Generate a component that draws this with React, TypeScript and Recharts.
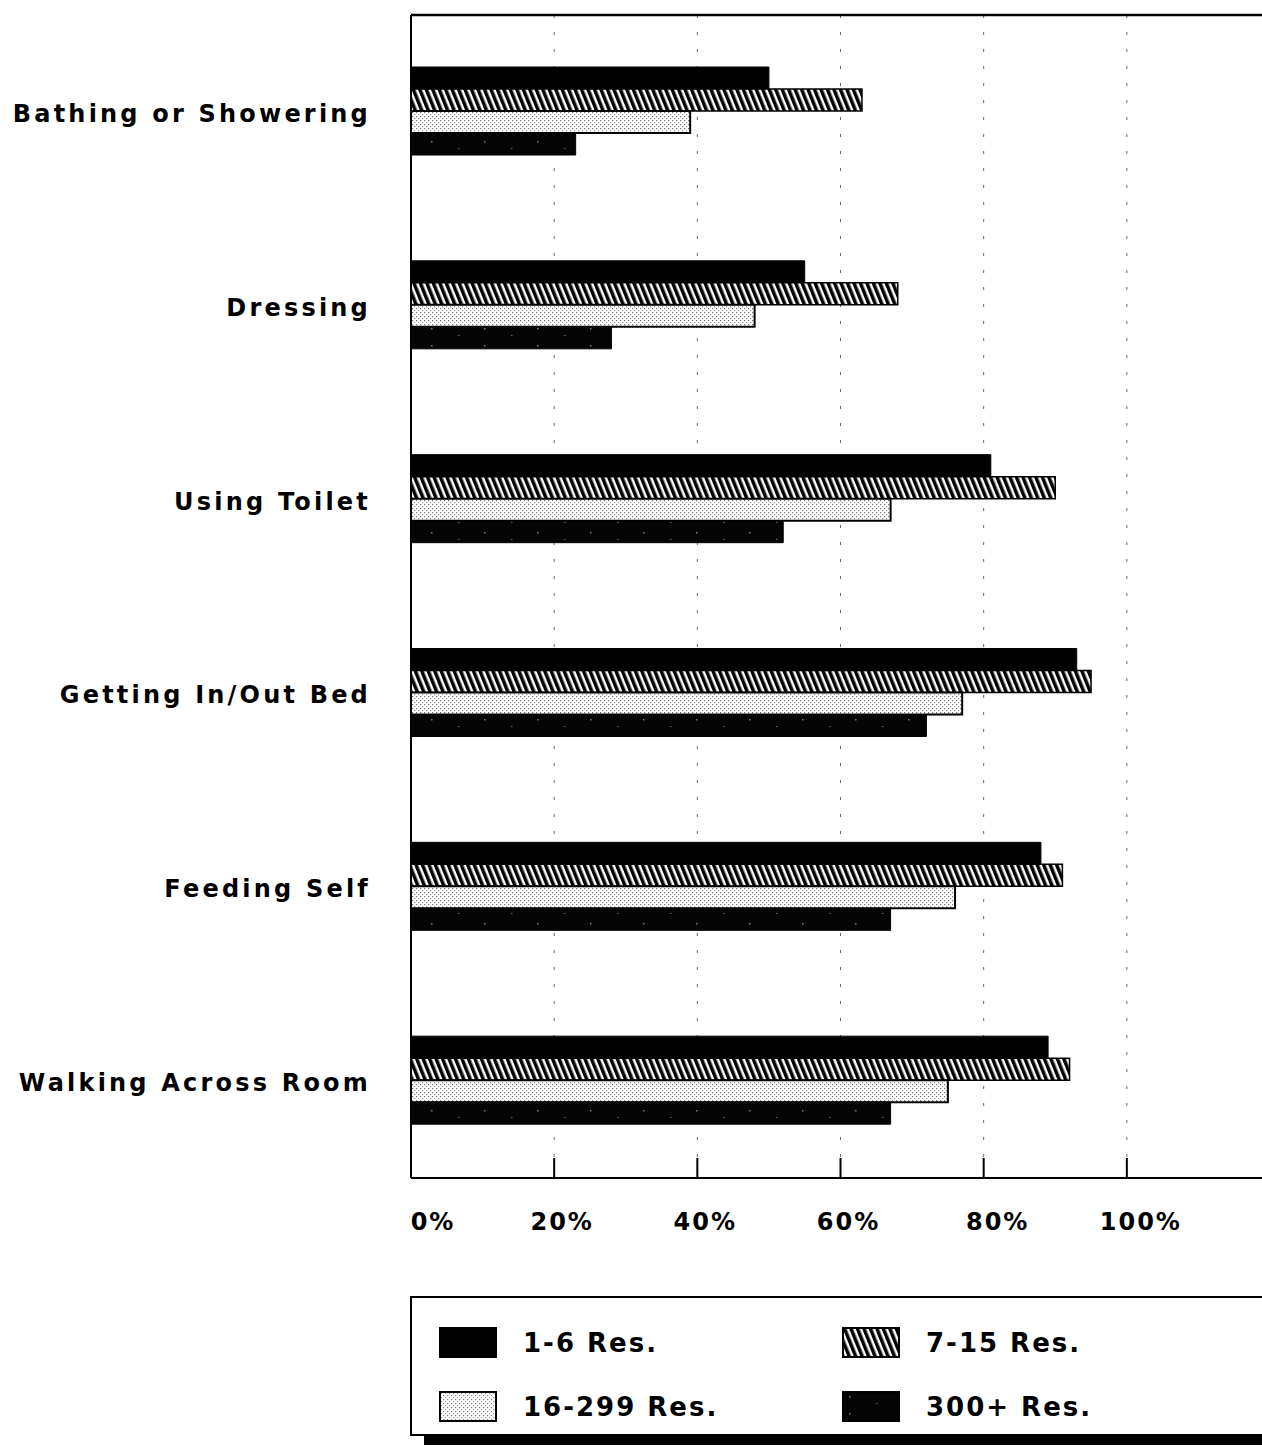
import React from 'react';
import { BarChart, Bar, XAxis, YAxis, CartesianGrid, Legend } from 'recharts';

const categories = [
  'Bathing or Showering',
  'Dressing',
  'Using Toilet',
  'Getting In/Out Bed',
  'Feeding Self',
  'Walking Across Room',
];
const res1to6 = [50, 55, 81, 93, 88, 89];
const res7to15 = [63, 68, 90, 95, 91, 92];
const res16to299 = [39, 48, 67, 77, 76, 75];
const res300plus = [23, 28, 52, 72, 67, 67];
const xTicks = [0, 20, 40, 60, 80, 100];
const seriesNames = ['1-6 Res.', '7-15 Res.', '16-299 Res.', '300+ Res.'];

const data = categories.map((name, i) => ({
  name,
  a: res1to6[i],
  b: res7to15[i],
  c: res16to299[i],
  d: res300plus[i],
}));

const FONT = '"DejaVu Sans", Arial, Helvetica, sans-serif';

const YTick = (props: any) => {
  const { x, y, payload } = props;
  return (
    <text
      x={x}
      y={y}
      dy={10}
      textAnchor="end"
      fontFamily={FONT}
      fontWeight="bold"
      fontSize={24}
      letterSpacing={3.2}
      fill="#000"
    >
      {payload.value}
    </text>
  );
};

const XTick = (props: any) => {
  const { x, y, payload, index } = props;
  const dx = index === 0 ? 22 : index >= 4 ? 14 : 8;
  return (
    <g>
      <line x1={x} y1={y} x2={x} y2={y - 20} stroke="#000" strokeWidth={2} />
      <text
        x={x + dx}
        y={y + 52}
        textAnchor="middle"
        fontFamily={FONT}
        fontWeight="bold"
        fontSize={24}
        letterSpacing={2}
        fill="#000"
      >
        {payload.value}%
      </text>
    </g>
  );
};

const LegendContent = (props: any) => {
  const { payload } = props;
  const items = [...(payload || [])].sort(
    (p: any, q: any) => seriesNames.indexOf(p.value) - seriesNames.indexOf(q.value)
  );
  return (
    <div
      style={{
        width: 900,
        height: 140,
        border: '2px solid #000',
        boxShadow: '14px 9px 0 0 #000',
        background: '#fff',
        boxSizing: 'border-box',
        position: 'relative',
        fontFamily: FONT,
      }}
    >
      {items.map((entry: any, i: number) => {
        const col = i % 2;
        const row = Math.floor(i / 2);
        return (
          <div
            key={i}
            style={{
              position: 'absolute',
              left: 27 + col * 403,
              top: 29 + row * 64,
              display: 'flex',
              alignItems: 'center',
            }}
          >
            <svg width={58} height={31} style={{ display: 'block' }}>
              <rect x={1} y={1} width={56} height={29} fill={entry.color} stroke="#000" strokeWidth={2} />
            </svg>
            <span
              style={{
                marginLeft: 26,
                fontSize: 26,
                fontWeight: 'bold',
                letterSpacing: 2,
                color: '#000',
              }}
            >
              {entry.value}
            </span>
          </div>
        );
      })}
    </div>
  );
};

export default function App() {
  return (
    <div
      style={{
        position: 'absolute',
        left: 0,
        top: 0,
        width: 1262,
        height: 1450,
        overflow: 'hidden',
        background: '#fff',
      }}
    >
      <BarChart
        width={1280}
        height={1450}
        data={data}
        layout="vertical"
        margin={{ top: 14, right: 10, bottom: 0, left: 0 }}
        barCategoryGap={52}
        barGap={0}
      >
        <defs>
          <pattern id="hatch" patternUnits="userSpaceOnUse" width="6" height="6" patternTransform="rotate(-22)">
            <rect width="6" height="6" fill="#fff" />
            <rect width="3.5" height="6" fill="#000" />
          </pattern>
          <pattern id="dots" patternUnits="userSpaceOnUse" width="4" height="4">
            <rect width="4" height="4" fill="#fff" />
            <rect x="0" y="0" width="1.2" height="1.2" fill="#777" />
            <rect x="2" y="2" width="1.2" height="1.2" fill="#999" />
          </pattern>
          <pattern id="speck" patternUnits="userSpaceOnUse" width="53" height="17">
            <rect width="53" height="17" fill="#050505" />
            <rect x="7" y="5" width="1.5" height="1.5" fill="#777" />
            <rect x="34" y="12" width="1.5" height="1" fill="#666" />
          </pattern>
        </defs>
        <CartesianGrid
          horizontal={false}
          vertical={true}
          stroke="#666"
          strokeWidth={1}
          strokeDasharray="3 14"
        />
        <XAxis
          xAxisId={0}
          type="number"
          domain={[0, 120]}
          ticks={xTicks}
          orientation="bottom"
          height={272}
          tickSize={0}
          tickMargin={0}
          tickLine={false}
          axisLine={{ stroke: '#000', strokeWidth: 2 }}
          tick={<XTick />}
          interval={0}
        />
        <XAxis
          xAxisId={1}
          type="number"
          domain={[0, 120]}
          orientation="top"
          height={1}
          tick={false}
          tickLine={false}
          axisLine={{ stroke: '#000', strokeWidth: 2.5 }}
        />
        <YAxis
          type="category"
          dataKey="name"
          width={411}
          tickSize={0}
          tickMargin={40}
          tickLine={false}
          axisLine={{ stroke: '#000', strokeWidth: 2 }}
          tick={<YTick />}
          interval={0}
        />
        <Legend
          layout="vertical"
          align="center"
          verticalAlign="middle"
          wrapperStyle={{ left: 410, top: 1296, width: 900, height: 140 }}
          content={<LegendContent />}
        />
        <Bar dataKey="a" name={seriesNames[0]} fill="#000" stroke="#000" strokeWidth={1} isAnimationActive={false} />
        <Bar dataKey="b" name={seriesNames[1]} fill="url(#hatch)" stroke="#000" strokeWidth={1.5} isAnimationActive={false} />
        <Bar dataKey="c" name={seriesNames[2]} fill="url(#dots)" stroke="#000" strokeWidth={2} isAnimationActive={false} />
        <Bar dataKey="d" name={seriesNames[3]} fill="url(#speck)" stroke="#000" strokeWidth={1} isAnimationActive={false} />
      </BarChart>
    </div>
  );
}
